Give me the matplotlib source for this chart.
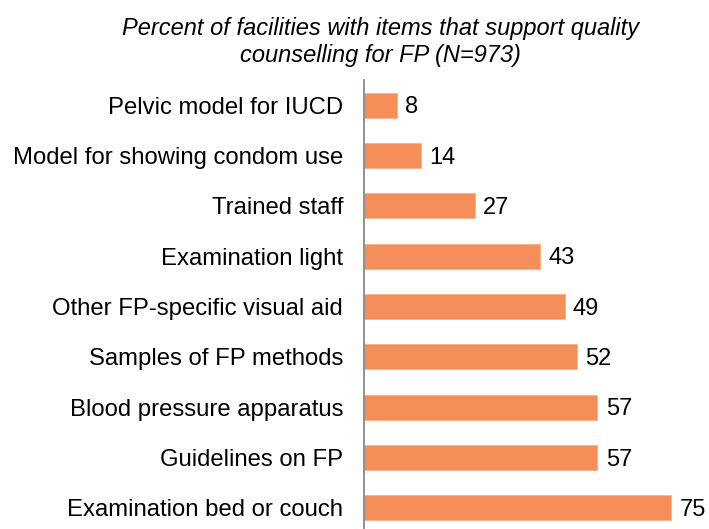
import matplotlib
matplotlib.use("Agg")
import matplotlib.pyplot as plt

plt.rcParams['font.family'] = ['Liberation Sans', 'DejaVu Sans']

items = ["Pelvic model for IUCD", "Model for showing condom use", "Trained staff",
         "Examination light", "Other FP-specific visual aid", "Samples of FP methods",
         "Blood pressure apparatus", "Guidelines on FP", "Examination bed or couch"]
values = [8, 14, 27, 43, 49, 52, 57, 57, 75]

fig = plt.figure(figsize=(7.09, 5.29), dpi=100)
ax = fig.add_axes([0.5134, -0.0076, 0.4852, 0.8564])

y = list(range(len(items)))
ax.barh(y, values, height=0.5, color="#F68E59", edgecolor="#F9B08A", linewidth=0.6)
for yi, v in zip(y, values):
    ax.text(v + 2, yi + 0.04, str(v), va="center", ha="left", fontsize=17)

ax.set_xlim(0, 84)
ax.set_ylim(len(items) - 0.5, -0.5)
ax.set_yticks(y)
ax.set_yticklabels(items, fontsize=17.2)
ax.tick_params(axis="y", length=0, pad=15)
ax.set_xticks([])
for s in ["top", "right", "bottom"]:
    ax.spines[s].set_visible(False)
ax.spines["left"].set_color("#808080")
ax.spines["left"].set_linewidth(1.2)

fig.text(0.537, 0.968, "Percent of facilities with items that support quality\ncounselling for FP (N=973)",
         ha="center", va="top", fontsize=17, style="italic", linespacing=1.2)

plt.savefig("out.png", dpi=100)
